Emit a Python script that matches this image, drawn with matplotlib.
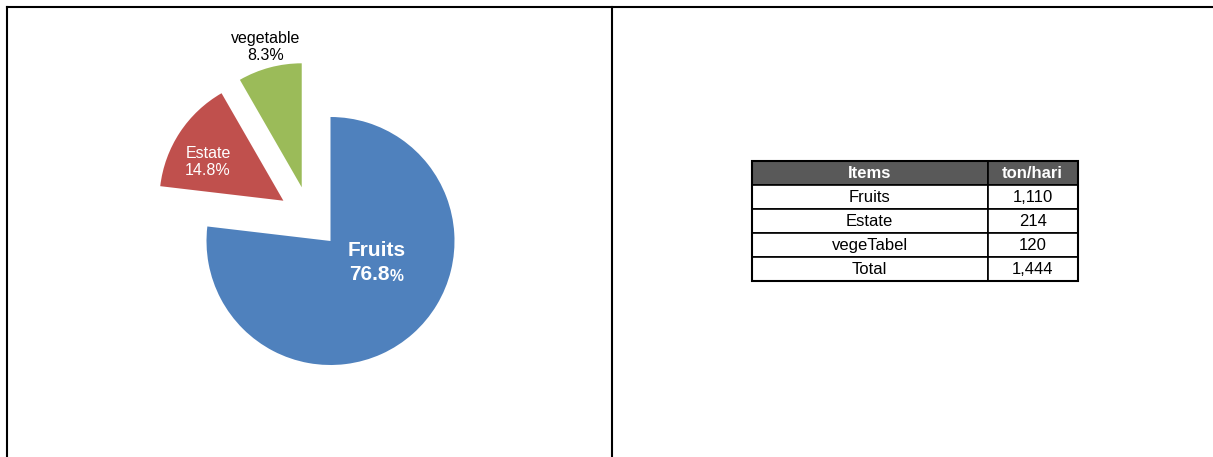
import matplotlib
matplotlib.use("Agg")
import matplotlib.pyplot as plt
from matplotlib.lines import Line2D

plt.rcParams['font.family'] = ['Liberation Sans', 'DejaVu Sans']

# ---- data ----
items = ["Fruits", "Estate", "vegetable"]
values = [1110, 214, 120]
pct_labels = ["76.8", "14.8%", "8.3%"]
table_items = ["Fruits", "Estate", "vegeTabel", "Total"]
table_values = ["1,110", "214", "120", "1,444"]
col_labels = ["Items", "ton/hari"]
colors = ["#4F81BD", "#C0504D", "#9BBB59"]

W, H = 1213, 457
fig = plt.figure(figsize=(W / 100, H / 100), dpi=100)

def fx(px):
    return px / W

def fy(py_top):
    return 1 - py_top / H

# ---- frame lines ----
lw = 1.5
fig.add_artist(Line2D([fx(6.5), 1.0], [fy(6.5), fy(6.5)], color="black", lw=lw))
fig.add_artist(Line2D([fx(6.7), fx(6.7)], [fy(6.5), 0], color="black", lw=lw))
fig.add_artist(Line2D([fx(611.5), fx(611.5)], [fy(6.5), 0], color="black", lw=lw))

# ---- pie ----
R = 124
cx, cy = 330.5, H - 241
ax_l, ax_r, ax_b, ax_t = 9, 609, 2, 448
ax = fig.add_axes([fx(ax_l), ax_b / H, (ax_r - ax_l) / W, (ax_t - ax_b) / H])
wedges, _ = ax.pie(values, colors=colors, startangle=90, counterclock=False,
                   radius=1.0, wedgeprops=dict(linewidth=0))
# slice offsets (explosion, Excel style)
offsets = [(0, 0), (-0.380, 0.325), (-0.232, 0.433)]
for w, (ox, oy) in zip(wedges, offsets):
    w.set_center((ox, oy))
ax.set_aspect('auto')
ax.set_xlim((ax_l - cx) / R, (ax_r - cx) / R)
ax.set_ylim((ax_b - cy) / R, (ax_t - cy) / R)
ax.axis('off')

def d(px, py_top):
    return (px - cx) / R, ((H - py_top) - cy) / R

x, y = d(266, 47)
ax.text(x, y, f"{items[2]}\n{pct_labels[2]}", ha="center", va="center",
        fontsize=11.5, color="black", linespacing=1.15)
x, y = d(208, 162)
ax.text(x, y, f"{items[1]}\n{pct_labels[1]}", ha="center", va="center",
        fontsize=11.5, color="white", linespacing=1.15)
x, y = d(377, 251)
ax.text(x, y, items[0], ha="center", va="center", fontsize=15,
        fontweight="bold", color="white")
x, y = d(390, 275)
ax.text(x, y, pct_labels[0], ha="right", va="center", fontsize=15,
        fontweight="bold", color="white")
x2, y2 = d(390, 277)
ax.text(x2, y2, "%", ha="left", va="center", fontsize=11.3,
        fontweight="bold", color="white")

# ---- table ----
tl, tr, tt, tb = 751.5, 1077.5, 161, 281
tax = fig.add_axes([fx(tl), fy(tb), (tr - tl) / W, (tb - tt) / H])
tax.axis('off')
cell_text = [[a, b] for a, b in zip(table_items, table_values)]
tbl = tax.table(cellText=cell_text, colLabels=col_labels, cellLoc="center",
                colWidths=[0.725, 0.275], bbox=[0, 0, 1, 1])
tbl.auto_set_font_size(False)
for (r, c), cell in tbl.get_celld().items():
    cell.set_edgecolor("black")
    cell.set_linewidth(1.2)
    cell.get_text().set_fontsize(12)
    if r == 0:
        cell.set_facecolor("#595959")
        cell.get_text().set_color("white")
        cell.get_text().set_fontweight("bold")
tax.add_patch(plt.Rectangle((0, 0), 1, 1, transform=tax.transAxes, fill=False,
                            edgecolor="black", lw=1.5, clip_on=False))

fig.savefig("out.png", dpi=100)
